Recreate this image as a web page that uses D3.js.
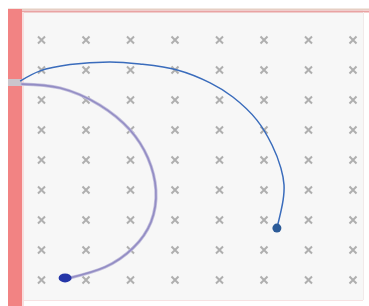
<!DOCTYPE html>
<html><head><meta charset="utf-8">
<script src="https://cdn.jsdelivr.net/npm/d3@7"></script>
<style>html,body{margin:0;padding:0;background:#fff;}svg{display:block;}</style>
</head><body>
<script>
// grid of cross markers (column / row indices)
const gridCols = [0,1,2,3,4,5,6,7];
const gridRows = [0,1,2,3,4,5,6,7,8];
// blue arc path (data coords: column index, row index)
const blueX = [-0.48,-0.03,0.64,1.54,2.21,3.05,3.79,4.30,4.84,5.18,5.38,5.45,5.43,5.29];
const blueY = [1.37,1.03,0.82,0.73,0.80,1.00,1.43,1.90,2.67,3.50,4.27,4.83,5.33,6.27];
// purple loop path
const purpleX = [-0.44,0.42,1.31,1.99,2.39,2.57,2.46,2.06,1.43,0.64];
const purpleY = [1.47,1.60,2.17,3.00,3.93,5.00,6.07,6.93,7.57,7.93];
const purpleEnd = [0.53, 7.93];

const W = 369, H = 306;
const svg = d3.select("body").append("svg").attr("width", W).attr("height", H);
const x = d3.scaleLinear().domain([0,7]).range([41.5,353]);
const y = d3.scaleLinear().domain([0,8]).range([40,280]);

// panel background
svg.append("rect").attr("x",8).attr("y",9).attr("width",355).attr("height",291).attr("fill","#f7f7f7");
svg.append("line").attr("x1",8).attr("x2",369).attr("y1",9.2).attr("y2",9.2).attr("stroke","#e6cfc4").attr("stroke-width",1.4);
svg.append("line").attr("x1",8).attr("x2",369).attr("y1",11.5).attr("y2",11.5).attr("stroke","#e9a3a3").attr("stroke-width",1.8);
svg.append("line").attr("x1",22).attr("x2",363).attr("y1",300.5).attr("y2",300.5).attr("stroke","#f6e2e2").attr("stroke-width",1);
svg.append("line").attr("x1",363.5).attr("x2",363.5).attr("y1",12).attr("y2",300).attr("stroke","#f1eaea").attr("stroke-width",1);
// left red bar
svg.append("rect").attr("x",8).attr("y",9).attr("width",14).attr("height",297).attr("fill","#f28383");
svg.append("rect").attr("x",22).attr("y",12).attr("width",2).attr("height",294).attr("fill","#f8dede");
svg.append("rect").attr("x",8).attr("y",79).attr("width",14).attr("height",7).attr("fill","#cbc5cc");

// crosses
const g = svg.append("g");
const pts = [];
gridRows.forEach(r => gridCols.forEach(c => pts.push([c,r])));
const s = 3.5;
g.selectAll("path.cross").data(pts).join("path").attr("class","cross")
  .attr("d", d => { const cx = x(d[0]), cy = y(d[1]);
    return `M${cx-s},${cy-s}L${cx+s},${cy+s}M${cx-s},${cy+s}L${cx+s},${cy-s}`; })
  .attr("stroke","#a2a2a2").attr("stroke-width",2).attr("opacity",0.85).attr("fill","none");

const line = d3.line().x(d => x(d[0])).y(d => y(d[1])).curve(d3.curveNatural);
const purple = purpleX.map((v,i) => [v, purpleY[i]]);
svg.append("path").attr("d", line(purple)).attr("fill","none").attr("stroke","#c2bedd").attr("stroke-width",3.2).attr("stroke-linecap","round");
svg.append("path").attr("d", line(purple)).attr("fill","none").attr("stroke","#938dc4").attr("stroke-width",1.6).attr("stroke-linecap","round");
svg.append("ellipse").attr("cx", x(purpleEnd[0])).attr("cy", y(purpleEnd[1])).attr("rx",6.5).attr("ry",4.5).attr("fill","#2536a8");

const blueLine = d3.line().x(d => x(d[0])).y(d => y(d[1])).curve(d3.curveCatmullRom);
const blue = blueX.map((v,i) => [v, blueY[i]]);
svg.append("path").attr("d", blueLine(blue)).attr("fill","none").attr("stroke","#3a6cbc").attr("stroke-width",1.5);
const last = blue[blue.length-1];
svg.append("circle").attr("cx", x(last[0])).attr("cy", y(last[1])).attr("r",4.5).attr("fill","#2c5b98");
</script>
</body></html>
